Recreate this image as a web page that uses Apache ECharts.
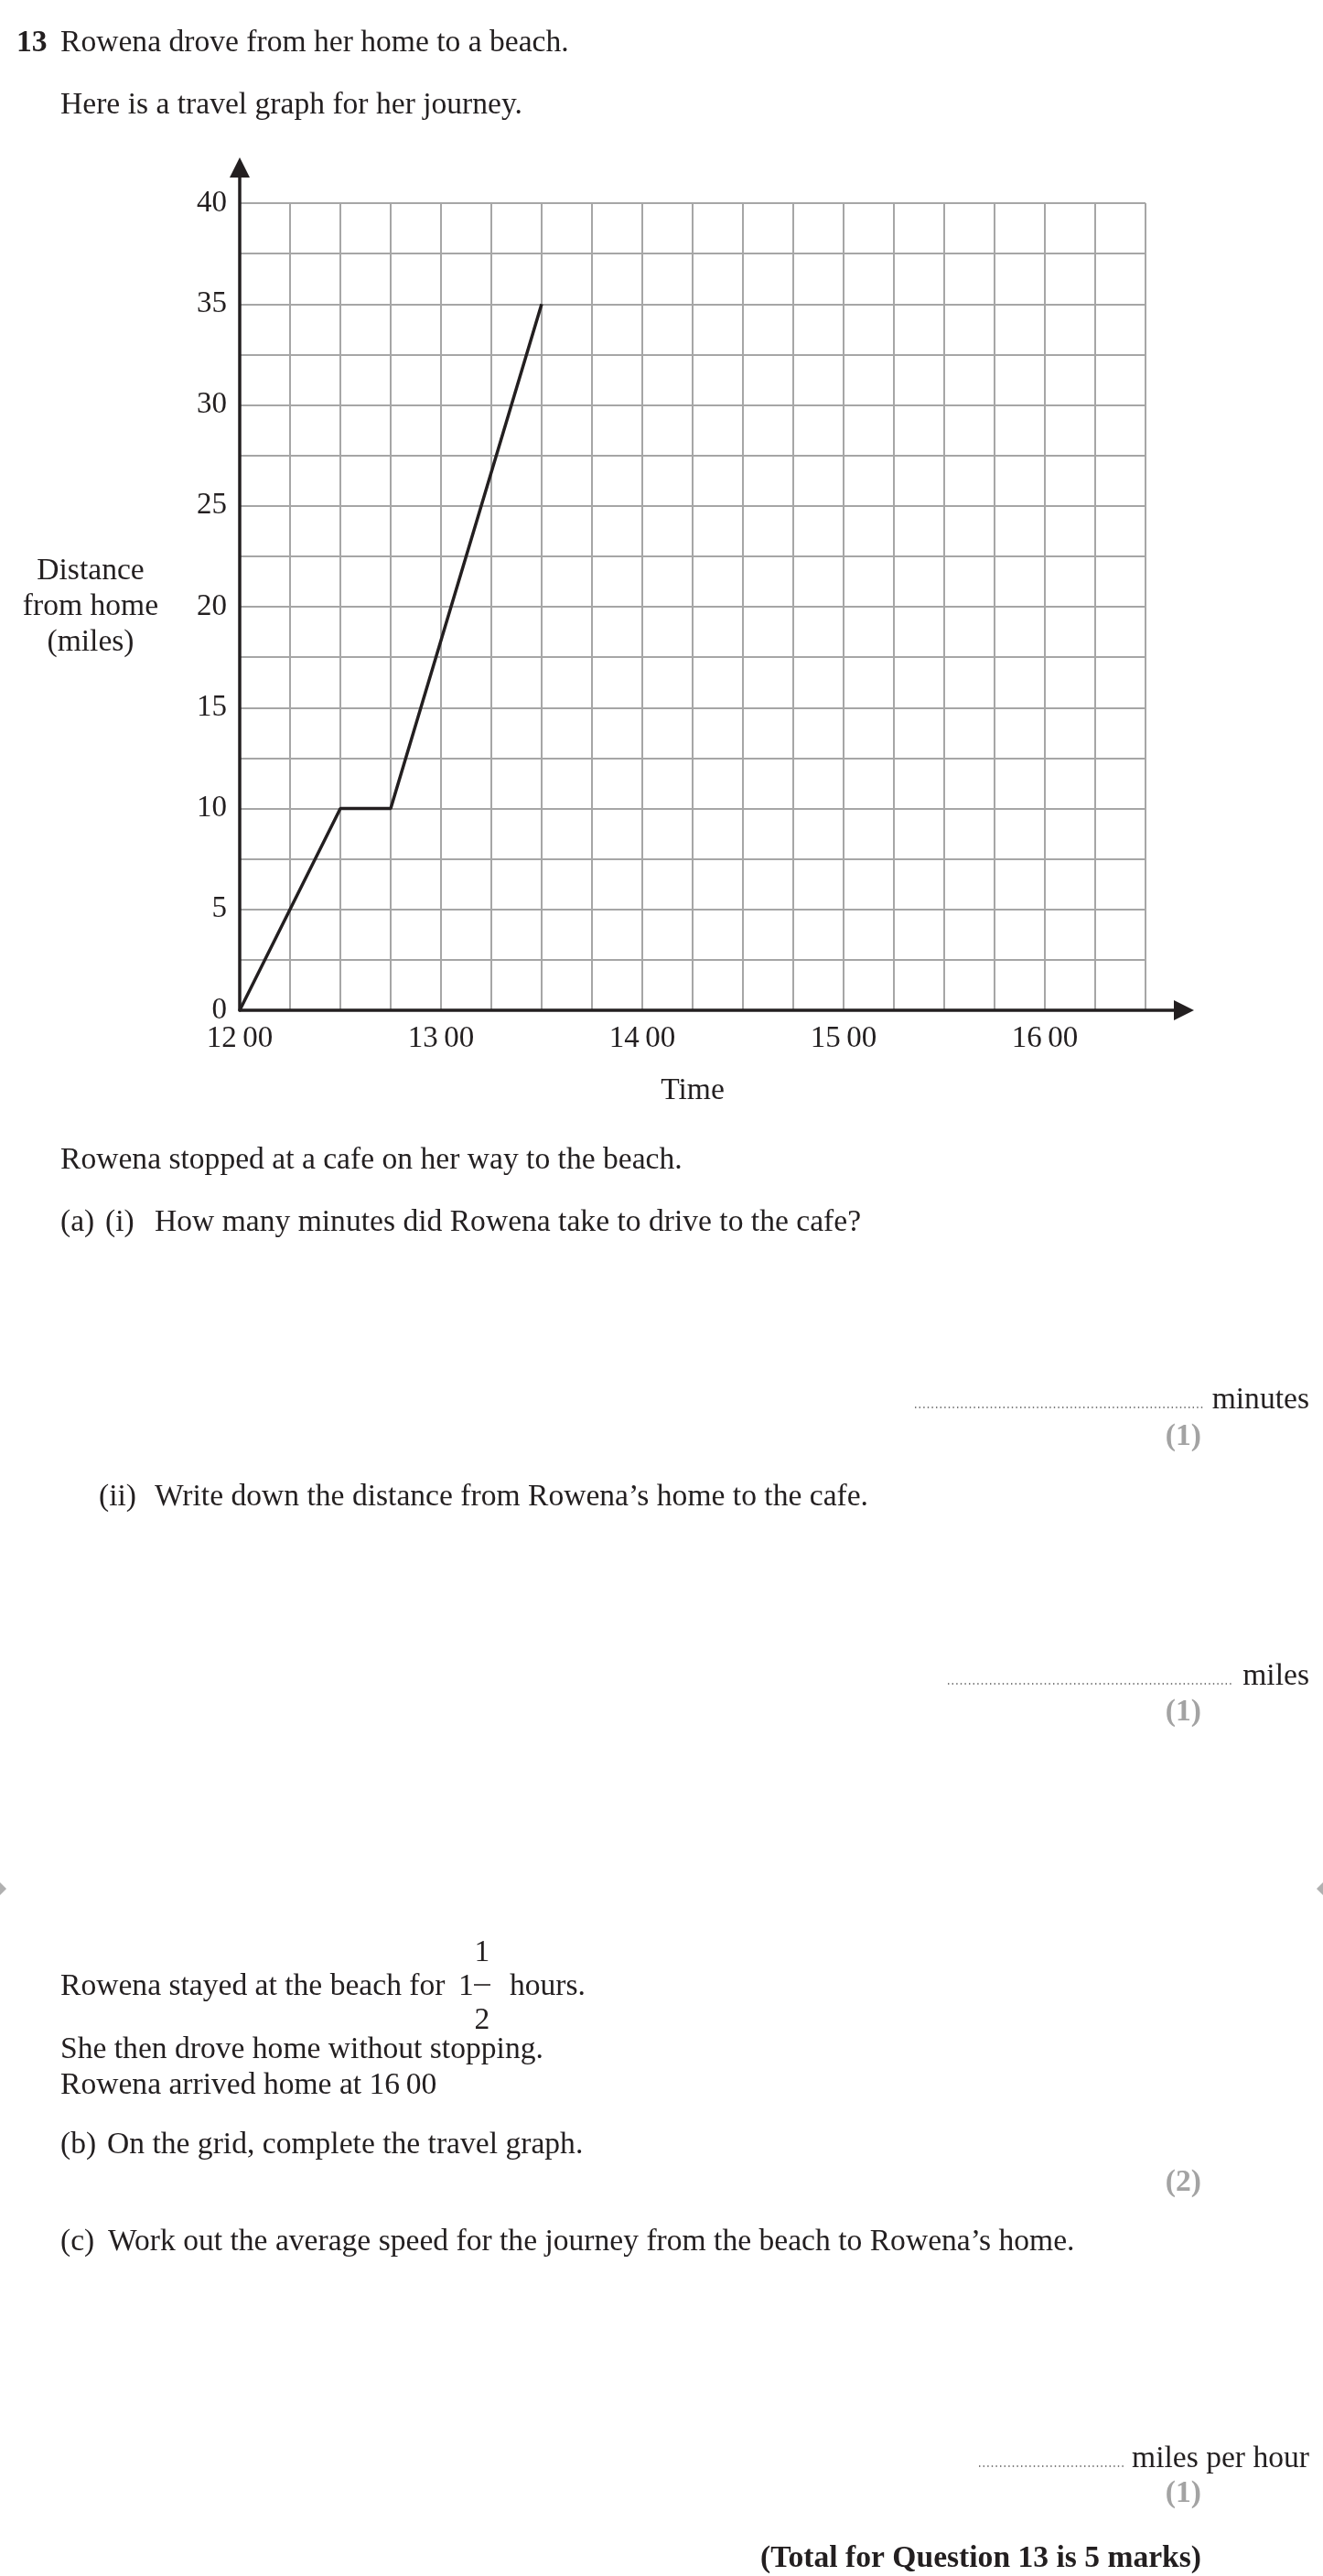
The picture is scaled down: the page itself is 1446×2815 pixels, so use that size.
<!DOCTYPE html>
<html>
<head>
<meta charset="utf-8">
<script src="https://cdn.jsdelivr.net/npm/echarts@6/dist/echarts.min.js"></script>
<style>
html,body{margin:0;padding:0;background:#fff;}
#chart{width:1446px;height:2815px;}
</style>
</head>
<body>
<div id="chart"></div>
<script>
// ---- data ----
const timeMinutes = [0, 30, 45, 90];          // minutes after 12 00
const distanceMiles = [0, 10, 10, 35];
const hourLabels = ['12\u200900', '13\u200900', '14\u200900', '15\u200900', '16\u200900'];
const distanceLabels = [0, 5, 10, 15, 20, 25, 30, 35, 40];

const FONT = '"Liberation Serif", "Times New Roman", serif';
const INK = '#231f20';
const GREY = '#a6a6a6';
const FS = 33.6;
const TICKFS = 33;

const chart = echarts.init(document.getElementById('chart'), null, {renderer: 'canvas'});

function txt(x, y, s, opts) {
  opts = opts || {};
  return {
    type: 'text', x: x, y: y, silent: true,
    style: {
      text: s,
      font: (opts.bold ? 'bold ' : '') + (opts.size || FS) + 'px ' + FONT,
      fill: opts.color || INK,
      textAlign: opts.align || 'left',
      textVerticalAlign: 'middle'
    }
  };
}
function dots(x1, x2, y) {
  return {
    type: 'line', silent: true,
    shape: {x1: x1, y1: y, x2: x2, y2: y},
    style: {stroke: '#555', lineWidth: 1.6, lineDash: [1.4, 3.2]}
  };
}

const graphics = [
  txt(18, 47, '13', {bold: true}),
  txt(66, 47, 'Rowena drove from her home to a beach.'),
  txt(66, 115, 'Here is a travel graph for her journey.'),

  txt(66, 1268, 'Rowena stopped at a cafe on her way to the beach.'),
  txt(66, 1336, '(a)'),
  txt(115, 1336, '(i)'),
  txt(169, 1336, 'How many minutes did Rowena take to drive to the cafe?'),
  dots(1000, 1315, 1538),
  txt(1431, 1530, 'minutes', {align: 'right'}),
  txt(1313, 1570, '(1)', {bold: true, color: '#a3a3a3', align: 'right'}),

  txt(108, 1636, '(ii)'),
  txt(169, 1636, 'Write down the distance from Rowena\u2019s home to the cafe.'),
  dots(1036, 1347, 1840),
  txt(1431, 1832, 'miles', {align: 'right'}),
  txt(1313, 1871, '(1)', {bold: true, color: '#a3a3a3', align: 'right'}),

  {type: 'polygon', silent: true, shape: {points: [[0, 2057], [7, 2064], [0, 2071]]}, style: {fill: '#b0b0b0'}},
  {type: 'polygon', silent: true, shape: {points: [[1446, 2057], [1439, 2064], [1446, 2071]]}, style: {fill: '#b0b0b0'}},

  txt(66, 2171, 'Rowena stayed at the beach for'),
  txt(501, 2171, '1'),
  txt(527, 2134, '1', {align: 'center'}),
  {type: 'line', silent: true, shape: {x1: 518, y1: 2169, x2: 536, y2: 2169}, style: {stroke: INK, lineWidth: 1.6}},
  txt(527, 2208, '2', {align: 'center'}),
  txt(557, 2171, 'hours.'),
  txt(66, 2240, 'She then drove home without stopping.'),
  txt(66, 2279, 'Rowena arrived home at 16\u200900'),
  txt(66, 2344, '(b)'),
  txt(117, 2344, 'On the grid, complete the travel graph.'),
  txt(1313, 2385, '(2)', {bold: true, color: '#a3a3a3', align: 'right'}),
  txt(66, 2450, '(c)'),
  txt(118, 2450, 'Work out the average speed for the journey from the beach to Rowena\u2019s home.'),
  dots(1070, 1229, 2695),
  txt(1431, 2687, 'miles per hour', {align: 'right'}),
  txt(1313, 2725, '(1)', {bold: true, color: '#a3a3a3', align: 'right'}),
  txt(1313, 2796, '(Total for Question 13 is 5 marks)', {bold: true, align: 'right'})
];

const option = {
  animation: false,
  backgroundColor: '#ffffff',
  grid: [
    {left: 262, top: 222, width: 990, height: 882, containLabel: false, show: false},
    {left: 262, top: 183, width: 1032, height: 921, containLabel: false, show: false}
  ],
  xAxis: [
    {
      type: 'value', gridIndex: 0, min: 0, max: 270, interval: 15,
      axisLine: {show: false}, axisTick: {show: false},
      splitLine: {show: true, lineStyle: {color: GREY, width: 2}},
      axisLabel: {
        show: true, margin: 15, color: INK, fontFamily: FONT, fontSize: TICKFS,
        formatter: v => (v % 60 === 0 ? hourLabels[v / 60] : '')
      },
      name: 'Time', nameLocation: 'middle', nameGap: 71,
      nameTextStyle: {color: INK, fontFamily: FONT, fontSize: FS}
    },
    {
      type: 'value', gridIndex: 1, min: 0, max: 1,
      axisLine: {show: true, symbol: ['none', 'triangle'], symbolSize: [22, 22],
        lineStyle: {color: INK, width: 3.5}},
      axisTick: {show: false}, axisLabel: {show: false}, splitLine: {show: false}
    }
  ],
  yAxis: [
    {
      type: 'value', gridIndex: 0, min: 0, max: 40, interval: 2.5,
      axisLine: {show: false}, axisTick: {show: false},
      splitLine: {show: true, lineStyle: {color: GREY, width: 2}},
      axisLabel: {
        show: true, margin: 14, color: INK, fontFamily: FONT, fontSize: TICKFS,
        formatter: v => (distanceLabels.indexOf(v) >= 0 ? String(v) : '')
      },
      name: 'Distance\nfrom home\n(miles)', nameLocation: 'middle', nameGap: 163, nameRotate: 0,
      nameTextStyle: {color: INK, fontFamily: FONT, fontSize: FS, align: 'center', verticalAlign: 'middle', lineHeight: 39}
    },
    {
      type: 'value', gridIndex: 1, min: 0, max: 1,
      axisLine: {show: true, symbol: ['none', 'triangle'], symbolSize: [22, 22],
        lineStyle: {color: INK, width: 3.5}},
      axisTick: {show: false}, axisLabel: {show: false}, splitLine: {show: false}
    }
  ],
  series: [
    {
      type: 'line', xAxisIndex: 0, yAxisIndex: 0,
      data: timeMinutes.map((t, i) => [t, distanceMiles[i]]),
      showSymbol: false, symbol: 'none',
      lineStyle: {color: INK, width: 3.5},
      z: 5
    }
  ],
  graphic: graphics
};
chart.setOption(option);
</script>
</body>
</html>
